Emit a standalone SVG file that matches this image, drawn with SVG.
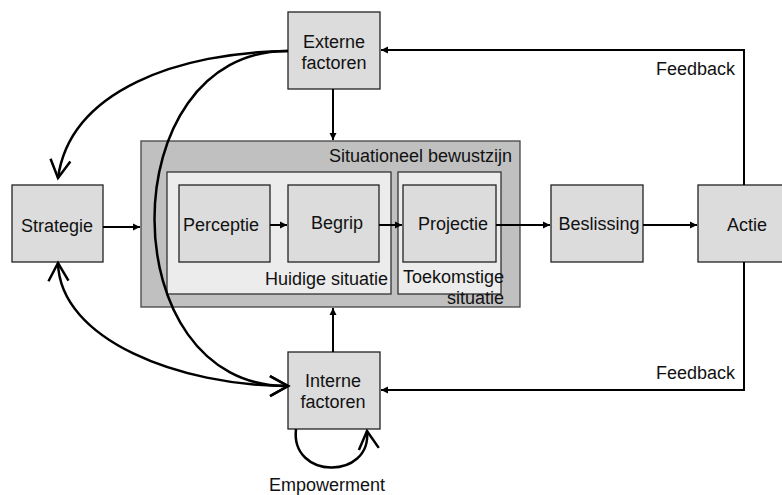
<svg xmlns="http://www.w3.org/2000/svg" width="782" height="495" viewBox="0 0 782 495">
  <style>
    text { font-family: "Liberation Sans", Arial, sans-serif; font-size: 18px; fill: #111; }
    .mid { text-anchor: middle; }
    .end { text-anchor: end; }
    .node { fill: #dcdcdc; stroke: #222; stroke-width: 1.3; }
    .outer { fill: #c0c0c0; stroke: #444; stroke-width: 1.3; }
    .inner { fill: #ececec; stroke: #333; stroke-width: 1.3; }
    .line { fill: none; stroke: #000; stroke-width: 2; }
    .curve { fill: none; stroke: #000; stroke-width: 2.5; }
  </style>
  <defs>
    <marker id="tri" markerUnits="userSpaceOnUse" markerWidth="10" markerHeight="10" viewBox="-8 -5 10 10" refX="0" refY="0" orient="auto">
      <path d="M-7,-3.5 L0,0 L-7,3.5 Z" fill="#000"/>
    </marker>
    <marker id="open" markerUnits="userSpaceOnUse" markerWidth="24" markerHeight="24" viewBox="-20 -12 24 24" refX="0" refY="0" orient="auto">
      <path d="M-18,-10 L0,0 L-18,10" fill="none" stroke="#000" stroke-width="2.5"/>
    </marker>
    <marker id="openStart" markerUnits="userSpaceOnUse" markerWidth="24" markerHeight="24" viewBox="-4 -12 24 24" refX="0" refY="0" orient="auto">
      <path d="M18,-10 L0,0 L18,10" fill="none" stroke="#000" stroke-width="2.5"/>
    </marker>
  </defs>

  <!-- situational awareness container -->
  <g id="situationeel-bewustzijn">
    <rect class="outer" x="141" y="141" width="379" height="166"/>
    <text class="end" x="512" y="162">Situationeel bewustzijn</text>
  </g>
  <g id="huidige-situatie">
    <rect class="inner" x="167" y="172" width="224" height="122"/>
    <text class="end" x="388" y="285">Huidige situatie</text>
  </g>
  <g id="toekomstige-situatie">
    <rect class="inner" x="398" y="172" width="103" height="122"/>
    <text class="end" x="504" y="283">Toekomstige</text>
    <text class="end" x="504" y="304">situatie</text>
  </g>

  <g id="perceptie">
    <rect class="node" x="179" y="185" width="91" height="77"/>
    <text class="mid" x="221" y="231">Perceptie</text>
  </g>
  <g id="begrip">
    <rect class="node" x="288" y="185" width="91" height="77"/>
    <text class="mid" x="337" y="229">Begrip</text>
  </g>
  <g id="projectie">
    <rect class="node" x="403" y="185" width="93" height="77"/>
    <text class="mid" x="453" y="230">Projectie</text>
  </g>
  <g id="beslissing">
    <rect class="node" x="551" y="185" width="92" height="77"/>
    <text class="mid" x="599" y="230">Beslissing</text>
  </g>
  <g id="actie">
    <rect class="node" x="698" y="185" width="92" height="77"/>
    <text class="mid" x="747" y="231">Actie</text>
  </g>
  <g id="strategie">
    <rect class="node" x="12" y="185" width="91" height="77"/>
    <text class="mid" x="57" y="232">Strategie</text>
  </g>
  <g id="externe-factoren">
    <rect class="node" x="288" y="12" width="92" height="77"/>
    <text class="mid" x="334" y="48">Externe</text>
    <text class="mid" x="334" y="69">factoren</text>
  </g>
  <g id="interne-factoren">
    <rect class="node" x="288" y="352" width="92" height="77"/>
    <text class="mid" x="333" y="387">Interne</text>
    <text class="mid" x="333" y="408">factoren</text>
  </g>

  <!-- connectors -->
  <g id="connectors">
    <path class="line" d="M103,227 H140" marker-end="url(#tri)"/>
    <path class="line" d="M270,225 H287" marker-end="url(#tri)"/>
    <path class="line" d="M379,225 H402" marker-end="url(#tri)"/>
    <path class="line" d="M496,225 H550" marker-end="url(#tri)"/>
    <path class="line" d="M643,225 H697" marker-end="url(#tri)"/>
    <path class="line" d="M333,89 V140" marker-end="url(#tri)"/>
    <path class="line" d="M333,352 V308" marker-end="url(#tri)"/>
    <path class="line" d="M744,185 V50 H381" marker-end="url(#tri)"/>
    <path class="line" d="M744,262 V390 H381" marker-end="url(#tri)"/>

    <path class="curve" d="M288,51 C180,52 70,90 58,178" marker-end="url(#open)"/>
    <path class="curve" d="M288,51 C110,50 110,388 288,386" marker-end="url(#open)"/>
    <path class="curve" d="M58,263 C60,340 180,386 288,386" marker-start="url(#openStart)" marker-end="url(#open)"/>
    <path class="curve" d="M296,429 C290,480 372,480 367,431" marker-end="url(#open)"/>

    <text class="end" x="735" y="75">Feedback</text>
    <text class="end" x="735" y="379">Feedback</text>
    <text class="mid" x="327" y="491">Empowerment</text>
  </g>
</svg>
